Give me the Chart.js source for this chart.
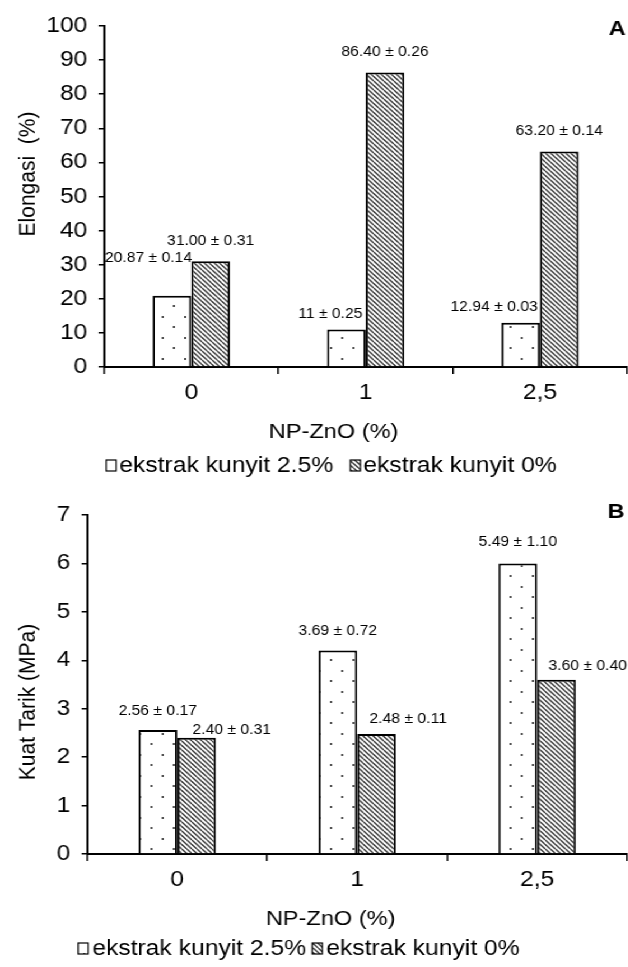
<!DOCTYPE html>
<html>
<head>
<meta charset="utf-8">
<script src="https://cdn.jsdelivr.net/npm/chart.js@4.4.1/dist/chart.umd.min.js"></script>
<style>
  body { margin: 0; background: #fff; overflow: hidden; }
  /* the source figure is slightly stretched sideways, so the whole stage is too */
  #stage { transform-origin: 0 0; }
  .box { position: relative; width: 100%; }
</style>
</head>
<body>
<div id="stage">
  <div class="box" style="height:480px"><canvas id="chartA"></canvas></div>
  <div class="box" style="height:487px"><canvas id="chartB"></canvas></div>
</div>
<script>
// Data
const categories = ['0', '1', '2,5'];
const seriesNames = ['ekstrak kunyit 2.5%', 'ekstrak kunyit 0%'];

const elongasiKunyit25 = [20.87, 11, 12.94];
const elongasiKunyit0 = [31.00, 86.40, 63.20];
const elongasiText25 = ['20.87 ± 0.14', '11 ± 0.25', '12.94 ± 0.03'];
const elongasiText0 = ['31.00 ± 0.31', '86.40 ± 0.26', '63.20 ± 0.14'];

const tarikKunyit25 = [2.56, 4.2, 6.0];
const tarikKunyit0 = [2.40, 2.48, 3.60];
const tarikText25 = ['2.56 ± 0.17', '3.69 ± 0.72', '5.49 ± 1.10'];
const tarikText0 = ['2.40 ± 0.31', '2.48 ± 0.11', '3.60 ± 0.40'];

const FONT = '"Liberation Sans", Arial, sans-serif';
const SX = 1.12;                 // horizontal stretch of the page
const sx = v => v / SX;          // page px -> unstretched px

const stage = document.getElementById('stage');
stage.style.width = sx(628) + 'px';
stage.style.transform = `scaleX(${SX})`;

// --- fill patterns ---
function makeDots() {
    const w = 20, h = 21;
    const c = document.createElement('canvas');
    c.width = w; c.height = h;
    const g = c.getContext('2d');
    g.fillStyle = '#fff';
    g.fillRect(0, 0, w, h);
    g.fillStyle = '#555';
    g.fillRect(4, 1, 2, 2);
    g.fillRect(14, 11, 2, 2);
    return g.createPattern(c, 'repeat');
}

function makeHatch() {
    const p = 4.5;
    const c = document.createElement('canvas');
    c.width = 9; c.height = 9;
    const g = c.getContext('2d');
    g.fillStyle = '#fff';
    g.fillRect(0, 0, 9, 9);
    g.strokeStyle = '#3c3c3c';
    g.lineWidth = 1.4;
    for (let i = -2; i <= 2; i++) {
        g.beginPath();
        g.moveTo(i * p, 0);
        g.lineTo(i * p + 9, 9);
        g.stroke();
    }
    return g.createPattern(c, 'repeat');
}

const dotFill = makeDots();
const hatchFill = makeHatch();

// titles, legend, panel letter and value labels
const decorPlugin = {
    id: 'decor',
    afterDraw(chart, args, o) {
        const ctx = chart.ctx;
        ctx.save();
        ctx.fillStyle = '#000';

        // value labels above bars
        ctx.font = '14px ' + FONT;
        ctx.textBaseline = 'middle';
        chart.data.datasets.forEach((ds, di) => {
            chart.getDatasetMeta(di).data.forEach((bar, i) => {
                const p = o.labelPos[di][i];
                ctx.textAlign = p[0];
                ctx.fillText(ds.valueText[i], bar.x + sx(p[1]), bar.y + p[2]);
            });
        });

        // axis titles
        ctx.font = '21px ' + FONT;
        ctx.textAlign = 'center';
        ctx.fillText(o.xTitle, sx(o.xTitleAt[0]), o.xTitleAt[1]);
        ctx.save();
        ctx.translate(sx(o.yTitleAt[0]), o.yTitleAt[1]);
        ctx.rotate(-Math.PI / 2);
        ctx.fillText(o.yTitle, 0, 0);
        ctx.restore();

        // legend
        ctx.font = '22px ' + FONT;
        let x = sx(o.legendAt[0]);
        const y = o.legendAt[1];
        const bw = sx(10);
        ctx.textAlign = 'left';
        chart.data.datasets.forEach((ds) => {
            ctx.fillStyle = ds.backgroundColor;
            ctx.fillRect(x, y - 6, bw, 11);
            ctx.strokeStyle = '#000';
            ctx.lineWidth = 1.2;
            ctx.strokeRect(x, y - 6, bw, 11);
            ctx.fillStyle = '#000';
            ctx.fillText(ds.label, x + bw + sx(o.legendPad), y);
            x += bw + sx(o.legendPad) + ctx.measureText(ds.label).width + sx(o.legendGap);
        });

        // panel letter
        ctx.font = 'bold 21px ' + FONT;
        ctx.textAlign = 'center';
        ctx.fillText(o.letter, sx(o.letterAt[0]), o.letterAt[1]);
        ctx.restore();
    }
};

function makeChart(id, cfg) {
    return new Chart(document.getElementById(id), {
        type: 'bar',
        data: {
            labels: categories,
            datasets: [{
                label: seriesNames[0],
                data: cfg.values[0],
                valueText: cfg.texts[0],
                backgroundColor: dotFill,
                borderColor: '#000',
                borderWidth: 2
            }, {
                label: seriesNames[1],
                data: cfg.values[1],
                valueText: cfg.texts[1],
                backgroundColor: hatchFill,
                borderColor: '#000',
                borderWidth: 2
            }]
        },
        options: {
            responsive: true,
            maintainAspectRatio: false,
            animation: false,
            events: [],
            categoryPercentage: cfg.catPct,
            barPercentage: 1,
            layout: { padding: { top: cfg.top, right: sx(2), left: 0, bottom: 0 } },
            plugins: {
                legend: { display: false },
                tooltip: { enabled: false },
                decor: cfg.decor
            },
            scales: {
                x: {
                    afterFit: (s) => { s.height = cfg.xHeight; },
                    grid: { offset: true, drawOnChartArea: false, drawTicks: true, tickLength: 7, color: '#000', lineWidth: 1.5 },
                    border: { display: true, color: '#000', width: 2 },
                    ticks: { color: '#000', font: { family: FONT, size: 22 }, padding: 6 }
                },
                y: {
                    min: 0,
                    max: cfg.yMax,
                    afterFit: (s) => { s.width = sx(cfg.yWidth); },
                    grid: { drawOnChartArea: false, drawTicks: true, tickLength: 5, color: '#000', lineWidth: 1.5 },
                    border: { display: true, color: '#000', width: 2 },
                    ticks: { stepSize: cfg.step, color: '#000', font: { family: FONT, size: 22 }, padding: 10 }
                }
            }
        },
        plugins: [decorPlugin]
    });
}

// label placement: [textAlign, dx from bar centre, dy from bar top]
makeChart('chartA', {
    values: [elongasiKunyit25, elongasiKunyit0],
    texts: [elongasiText25, elongasiText0],
    yMax: 100, step: 10,
    top: 26, xHeight: 113, yWidth: 104, catPct: 0.443,
    decor: {
        labelPos: [
            [['right', 20, -38], ['right', 16, -15], ['right', 17, -16]],
            [['center', 0, -20], ['center', 0, -20], ['center', 0, -20]]
        ],
        xTitle: 'NP-ZnO (%)', xTitleAt: [333, 432],
        yTitle: 'Elongasi  (%)', yTitleAt: [28, 174],
        legendAt: [106, 466], legendPad: 3, legendGap: 17,
        letter: 'A', letterAt: [616, 29]
    }
});

makeChart('chartB', {
    values: [tarikKunyit25, tarikKunyit0],
    texts: [tarikText25, tarikText0],
    yMax: 7, step: 1,
    top: 35, xHeight: 113, yWidth: 87, catPct: 0.43,
    decor: {
        labelPos: [
            [['center', 0, -19], ['center', 0, -19], ['center', 0, -21]],
            [['left', -4, -8], ['left', -7, -15], ['left', -8, -14]]
        ],
        xTitle: 'NP-ZnO (%)', xTitleAt: [330, 439],
        yTitle: 'Kuat Tarik (MPa)', yTitleAt: [28, 222],
        legendAt: [78, 469], legendPad: 4, legendGap: 6,
        letter: 'B', letterAt: [615, 32]
    }
});
</script>
</body>
</html>
